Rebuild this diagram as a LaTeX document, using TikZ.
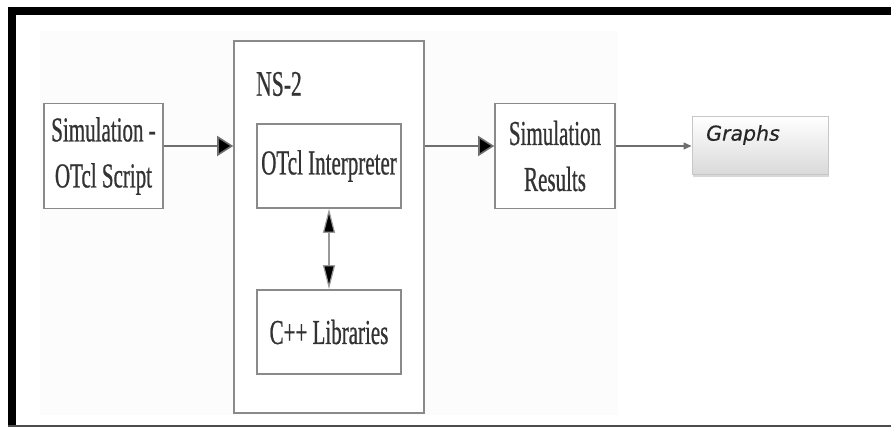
\documentclass[tikz,border=0pt]{standalone}
\usepackage{fontspec}
\usetikzlibrary{arrows.meta,shadows}
\newfontfamily\boxfont[FakeStretch=0.6,FakeBold=0.6]{Liberation Serif}
\newfontfamily\graphfont[FakeBold=0.5]{DejaVu Sans}
\definecolor{boxline}{HTML}{8A8A8A}
\definecolor{boxtext}{HTML}{333333}
\definecolor{arrowgray}{HTML}{6E6E6E}
\begin{document}
\begin{tikzpicture}[x=1pt,y=-1pt,
  blockbox/.style={draw=boxline,line width=1.6pt,fill=white,align=center,
    text=boxtext,font=\boxfont\fontsize{35}{46}\selectfont,inner sep=0pt},
  bigarrow/.style={draw=arrowgray,line width=1.6pt,
    -{Triangle[length=16pt,width=20pt,fill=black]}},
  twoway/.style={draw=black!40,line width=1.2pt,
    {Triangle[length=24pt,width=12pt,fill=black]}-{Triangle[length=24pt,width=12pt,fill=black]}},
  smallarrow/.style={draw=arrowgray,line width=1.3pt,
    -{Triangle[length=8pt,width=7pt,fill=arrowgray]}}]
  \useasboundingbox (0,0) rectangle (891,427);
  \fill[white] (0,0) rectangle (891,427);
  % faint panel behind the blocks
  \fill[black!1] (40,31) rectangle (618,415);
  % outer frame
  \draw[black,line width=8pt] (8,11) -- (891,11);
  \draw[black,line width=7.5pt] (11.75,7) -- (11.75,427);
  \draw[black!70,line width=2pt] (8,426) -- (891,426);

  \coordinate (row) at (0,146);

  \node[blockbox,minimum width=119pt,minimum height=105pt] (sim) at (103.5,156)
    {Simulation -\\OTcl Script};
  \node[blockbox,minimum width=190pt,minimum height=372pt] (ns) at (329,227) {};
  \node[text=boxtext,font=\boxfont\fontsize{36}{40}\selectfont,inner sep=0pt]
    (nslabel) at (279,84) {NS-2};
  \node[blockbox,minimum width=144pt,minimum height=84pt] (otcl) at (329,166)
    {OTcl Interpreter};
  \node[blockbox,minimum width=144pt,minimum height=84pt] (cpp) at (329,332)
    {C++ Libraries};
  \node[blockbox,minimum width=120pt,minimum height=105pt] (res) at (555,156)
    {Simulation\\Results};
  \node[draw=black!22,line width=1pt,top color=white,bottom color=black!15,
    drop shadow={shadow xshift=1pt,shadow yshift=-2pt,opacity=0.3},
    minimum width=136pt,minimum height=58pt] (graphs) at (760,146) {};
  \node[anchor=west,text=black!85,inner sep=0pt,
    font=\graphfont\itshape\fontsize{20.5}{24}\selectfont] (glabel) at (706,135) {Graphs};

  \draw[bigarrow] (sim.east |- row) -- (ns.west |- row);
  \draw[bigarrow] (ns.east |- row) -- (res.west |- row);
  \draw[twoway] (otcl.south) -- (cpp.north);
  \draw[smallarrow] (res.east |- row) -- (graphs.west |- row);
\end{tikzpicture}
\end{document}
